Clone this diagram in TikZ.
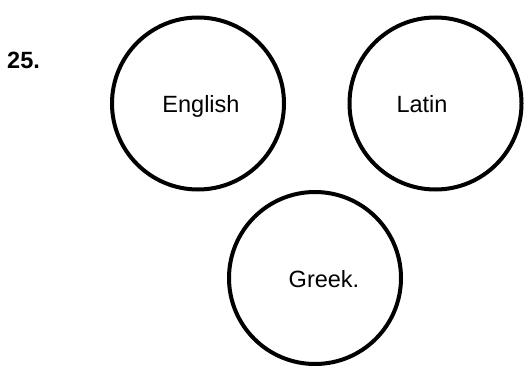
\documentclass[tikz,border=0pt]{standalone}
\usepackage{fontspec}
\setmainfont{Liberation Sans}
\usepackage{tikz}
\usetikzlibrary{positioning}

\begin{document}
\begin{tikzpicture}[
    x=1pt, y=1pt,
    lang/.style={circle, draw, line width=4pt, minimum size=172pt, inner sep=0pt},
    word/.style={anchor=base, inner sep=0pt, font=\fontsize{23.5}{28}\selectfont},
    num/.style={anchor=base west, inner sep=0pt, font=\fontsize{23.5}{28}\selectfont\bfseries}
]
    \useasboundingbox (0,0) rectangle (529,367);

    \node[num] (qnum) at (7,298.5) {25.};

    \node[lang] (english) at (198,263.5) {};
    \node[lang] (latin) at (435.5,263.5) {};
    \node[lang] (greek) at (315,89) {};

    \node[word] (englishtxt) at (201,254) {English};
    \node[word] (latintxt) at (422,254) {Latin};
    \node[word] (greektxt) at (324,80) {Greek.};
\end{tikzpicture}
\end{document}
